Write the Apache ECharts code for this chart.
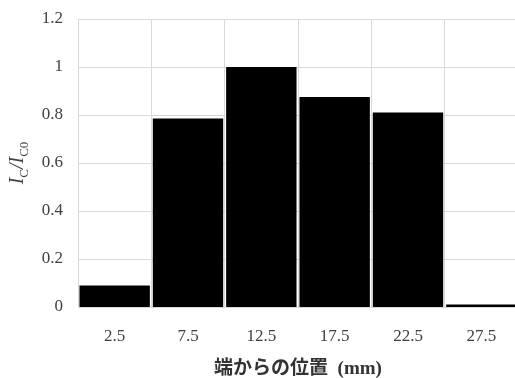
<!DOCTYPE html>
<html><head><meta charset="utf-8">
<script src="https://cdn.jsdelivr.net/npm/echarts@6/dist/echarts.min.js"></script>
<style>html,body{margin:0;padding:0;background:#fff}#c{width:515px;height:378px}</style>
</head><body><div id="c"></div>
<script>
const categories = ['2.5','7.5','12.5','17.5','22.5','27.5'];
const values = [0.09, 0.785, 1.0, 0.875, 0.81, 0.01];
const yTicks = {min: 0, max: 1.2, interval: 0.2};
const xTitle = '端からの位置  (mm)';

const chart = echarts.init(document.getElementById('c'));
chart.setOption({
  animation: false,
  grid: {left: 78, right: -3, top: 19, bottom: 71, containLabel: false, outerBoundsMode: 'none'},
  xAxis: {
    type: 'category', data: categories, boundaryGap: true,
    axisLine: {show: false}, axisTick: {show: false},
    splitLine: {show: true, lineStyle: {color: '#d9d9d9', width: 1}},
    axisLabel: {fontFamily: 'Liberation Serif', fontSize: 17, color: '#404040', margin: 21},
    name: xTitle, nameLocation: 'middle', nameGap: 53,
    nameTextStyle: {fontFamily: '"Liberation Serif","Noto Sans CJK JP"', fontWeight: 'bold', fontSize: 19, color: '#333333'}
  },
  yAxis: {
    type: 'value', min: yTicks.min, max: yTicks.max, interval: yTicks.interval,
    axisLine: {show: true, lineStyle: {color: '#d9d9d9'}}, axisTick: {show: false},
    splitLine: {show: true, lineStyle: {color: '#d9d9d9', width: 1}},
    axisLabel: {fontFamily: 'Liberation Serif', fontSize: 17, color: '#404040', margin: 15},
    name: '{i|I}{s|C}{i|/I}{s|C0}', nameLocation: 'middle', nameGap: 49, nameRotate: 90,
    nameTextStyle: {
      rich: {
        i: {fontFamily: 'Liberation Serif', fontStyle: 'italic', fontSize: 20, color: '#404040', verticalAlign: 'bottom'},
        s: {fontFamily: 'Liberation Serif', fontSize: 13, color: '#404040', verticalAlign: 'bottom', padding: [0,0,-3,0]}
      }
    }
  },
  series: [{
    type: 'bar', data: values, barCategoryGap: '4%',
    itemStyle: {color: '#000000'}
  }]
});
</script></body></html>
